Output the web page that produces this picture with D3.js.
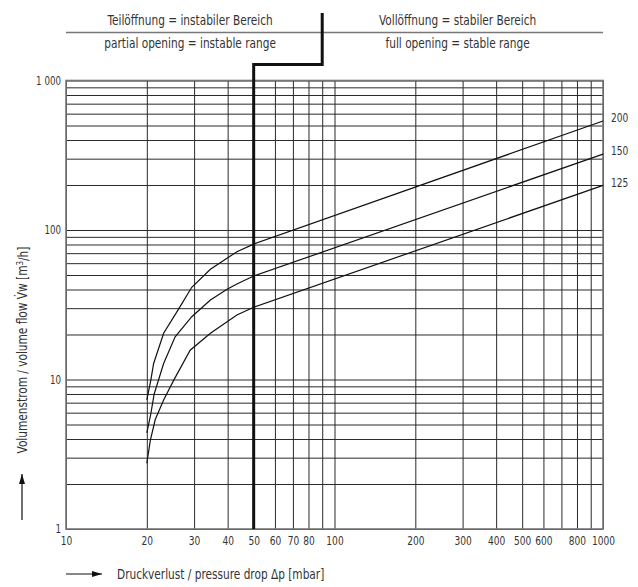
<!DOCTYPE html>
<html>
<head>
<meta charset="utf-8">
<script src="https://cdn.jsdelivr.net/npm/d3@7"></script>
<style>
  body { margin: 0; background: #fff; }
  svg text { font-family: "DejaVu Sans Condensed", "Liberation Sans Narrow", sans-serif; fill: #333; }
  .grid line { stroke: #2a2a2a; stroke-width: 1; }
  .grid path { display: none; }
</style>
</head>
<body>
<svg id="chart" width="638" height="587"></svg>
<script>
// pressure drop dp [mbar] / volume flow [m3/h]
var dp200 = [20, 20.7, 21.2, 23.1, 26.6, 29.4, 34.5, 43.3, 50, 1000];
var q200  = [7.3, 9.9, 12.8, 20.4, 30.7, 41.4, 54.6, 71.6, 80.5, 536];

var dp150 = [20, 20.7, 21.3, 23.1, 25.5, 29.4, 34.5, 39.8, 43.3, 50, 1000];
var q150  = [4.4, 5.9, 8.0, 12.8, 19.3, 26.3, 34, 40.1, 43.5, 49.2, 322];

var dp125 = [20, 20.6, 21.5, 23.1, 25.2, 29, 34.5, 43.3, 50, 1000];
var q125  = [2.75, 3.9, 5.4, 7.3, 9.9, 15.7, 20.4, 27, 30.4, 199];

var seriesNames = ["200", "150", "125"];

var xGrid = [10, 20, 30, 40, 50, 60, 70, 80, 90, 100, 200, 300, 400, 500, 600, 700, 800, 900, 1000];
var xLabels = [10, 20, 30, 40, 50, 60, 70, 80, 100, 200, 300, 400, 500, 600, 800, 1000];
var yGrid = [1, 2, 3, 4, 5, 6, 7, 8, 9, 10, 20, 30, 40, 50, 60, 70, 80, 90, 100,
             200, 300, 400, 500, 600, 700, 800, 900, 1000];
var yLabels = { 1: "1", 10: "10", 100: "100", 1000: "1 000" };

// boundary between partial and full opening
var stepX = [50, 90];

var headerLeft = ["Teilöffnung = instabiler Bereich", "partial opening = instable range"];
var headerRight = ["Vollöffnung = stabiler Bereich", "full opening = stable range"];
</script>
<script>
(function () {
    var svg = d3.select("#chart"),
        left = 66, right = 603, top = 80.5, bottom = 529,
        squeeze = 0.84,
        x, y, line, series, ytitle;

    x = d3.scaleLog().domain([10, 1000]).range([left, right]);
    y = d3.scaleLog().domain([1, 1000]).range([bottom, top]);

    // vertical grid + x tick labels
    svg.append("g")
        .attr("class", "grid")
        .attr("transform", "translate(0," + bottom + ")")
        .call(d3.axisBottom(x)
            .tickValues(xGrid)
            .tickSize(-(bottom - top))
            .tickPadding(7)
            .tickFormat(function (d) { return xLabels.indexOf(d) >= 0 ? d : ""; }))
        .selectAll("text")
        .style("font-size", "12px")
        .attr("transform", "scale(" + squeeze + ",1)");

    // horizontal grid + y tick labels
    svg.append("g")
        .attr("class", "grid")
        .attr("transform", "translate(" + left + ",0)")
        .call(d3.axisLeft(y)
            .tickValues(yGrid)
            .tickSize(-(right - left))
            .tickPadding(6)
            .tickFormat(function (d) { return yLabels[d] || ""; }))
        .selectAll("text")
        .style("font-size", "11.5px")
        .attr("transform", "scale(" + squeeze + ",1)");

    // frame
    svg.append("rect")
        .attr("x", left).attr("y", top)
        .attr("width", right - left).attr("height", bottom - top)
        .attr("fill", "none").attr("stroke", "#777").attr("stroke-width", 1.6);

    // curves
    series = [
        { name: seriesNames[0], dp: dp200, q: q200 },
        { name: seriesNames[1], dp: dp150, q: q150 },
        { name: seriesNames[2], dp: dp125, q: q125 }
    ];

    line = d3.line()
        .x(function (d) { return x(d[0]); })
        .y(function (d) { return y(d[1]); });

    svg.selectAll("path.curve")
        .data(series)
        .enter()
        .append("path")
        .attr("class", "curve")
        .attr("fill", "none")
        .attr("stroke", "#111")
        .attr("stroke-width", 1.2)
        .attr("d", function (s) {
            return line(s.dp.map(function (v, i) { return [v, s.q[i]]; }));
        });

    svg.selectAll("text.curveLabel")
        .data(series)
        .enter()
        .append("text")
        .attr("class", "curveLabel")
        .attr("transform", function (s) {
            return "translate(" + (right + 8) + "," + (y(s.q[s.q.length - 1]) - 3) + ") scale(" + squeeze + ",1)";
        })
        .attr("dy", "0.35em")
        .style("font-size", "12px")
        .text(function (s) { return s.name; });

    // header
    svg.append("line")
        .attr("x1", left).attr("x2", right)
        .attr("y1", 32.5).attr("y2", 32.5)
        .attr("stroke", "#777").attr("stroke-width", 1.6);

    [headerLeft, headerRight].forEach(function (h, i) {
        var cx = i === 0 ? (left + x(stepX[1])) / 2 - 4 : (x(stepX[1]) + right) / 2 - 5;
        h.forEach(function (t, j) {
            svg.append("text")
                .attr("transform", "translate(" + cx + "," + (j === 0 ? 24.5 : 47.5) + ") scale(" + squeeze + ",1)")
                .attr("text-anchor", "middle")
                .style("font-size", "14px")
                .text(t);
        });
    });

    // stable / unstable boundary
    svg.append("path")
        .attr("fill", "none")
        .attr("stroke", "#111")
        .attr("stroke-width", 3)
        .attr("d", "M" + x(stepX[1]) + ",13V64.5H" + x(stepX[0]) + "V" + bottom);

    // axis titles
    ytitle = svg.append("text")
        .attr("transform", "translate(26.5,350) rotate(-90) scale(" + squeeze + ",1)")
        .attr("text-anchor", "middle")
        .style("font-size", "14px");
    ytitle.append("tspan").text("Volumenstrom / volume flow V\u0307w [m");
    ytitle.append("tspan").attr("dy", "-0.4em").style("font-size", "9.5px").text("3");
    ytitle.append("tspan").attr("dy", "0.4em").text("/h]");

    svg.append("text")
        .attr("transform", "translate(117,578.5) scale(" + squeeze + ",1)")
        .style("font-size", "14px")
        .text("Druckverlust / pressure drop \u0394p [mbar]");

    // arrows
    svg.append("defs").append("marker")
        .attr("id", "head")
        .attr("viewBox", "0 0 10 6")
        .attr("refX", 10).attr("refY", 3)
        .attr("markerWidth", 10).attr("markerHeight", 6)
        .attr("markerUnits", "userSpaceOnUse")
        .attr("orient", "auto")
        .append("path").attr("d", "M0,0L10,3L0,6Z").attr("fill", "#111");

    svg.append("line")
        .attr("x1", 22).attr("x2", 22).attr("y1", 520).attr("y2", 474)
        .attr("stroke", "#111").attr("stroke-width", 1.2)
        .attr("marker-end", "url(#head)");

    svg.append("line")
        .attr("x1", 66).attr("x2", 102).attr("y1", 574).attr("y2", 574)
        .attr("stroke", "#111").attr("stroke-width", 1.2)
        .attr("marker-end", "url(#head)");
})();
</script>
</body>
</html>
